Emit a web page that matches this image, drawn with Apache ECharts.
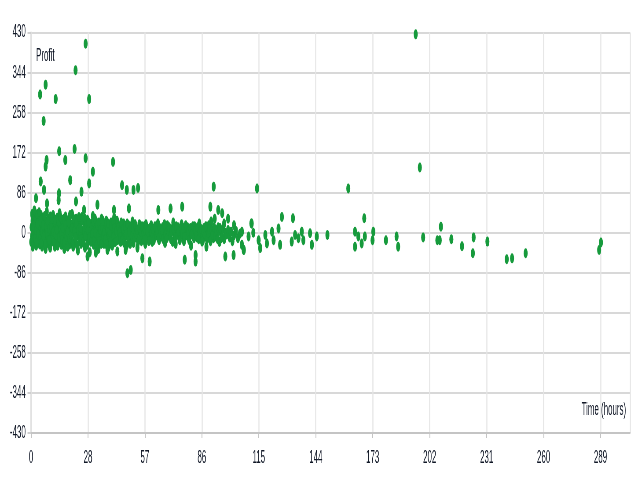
<!DOCTYPE html>
<html><head><meta charset="utf-8">
<script src="https://cdn.jsdelivr.net/npm/echarts@6/dist/echarts.min.js"></script>
<style>
html,body{margin:0;padding:0;width:640px;height:480px;overflow:hidden;background:#fff;}
#wrap{width:640px;height:480px;overflow:hidden;position:relative;}
#chart{width:1455px;height:480px;transform:scaleX(0.44);transform-origin:0 0;position:absolute;left:0;top:0;}
</style></head>
<body><div id="wrap"><div id="chart"></div></div>
<script>
// Y ticks: -430..430 step 86 ; X ticks: 0..289 step 28.9 (labels floored)
const yTicks = [-430,-344,-258,-172,-86,0,86,172,258,344,430];
const xTickLabels = [0,28,57,86,115,144,173,202,231,260,289];

// dense cluster near zero, hours 0-10
const clusterA = [[0.3,12],[0.5,-8],[0.8,25],[1,2],[1.2,-15],[1.4,35],[1.6,-22],[1.8,8],[2,18],[2.2,-5],[2.4,30],[2.6,-28],[2.8,12],[3,-12],[3.2,40],[3.4,0],[3.6,22],[3.8,-18],[4,5],[4.2,28],[4.4,-25],[4.6,15],[4.8,-8],[5,38],[5.2,-2],[5.4,20],[5.6,-30],[5.8,10],[6,-15],[6.2,32],[6.4,3],[6.6,-20],[6.8,18],[7,-5],[7.2,26],[7.4,-35],[7.6,8],[7.8,-12],[8,45],[8.2,14],[8.4,-22],[8.6,0],[8.8,30],[9,-10],[9.2,20],[9.4,-28],[9.6,6],[9.8,35]];
// hours 10-25
const clusterB = [[10,-3],[10.3,22],[10.6,-18],[10.9,10],[11.2,38],[11.5,-8],[11.8,25],[12.1,-30],[12.4,5],[12.7,15],[13,-14],[13.3,32],[13.6,0],[13.9,-22],[14.2,18],[14.5,42],[14.8,-6],[15.1,12],[15.4,-26],[15.7,28],[16,3],[16.3,-12],[16.6,20],[16.9,-35],[17.2,8],[17.5,35],[17.8,-4],[18.1,24],[18.4,-18],[18.7,12],[19,-8],[19.3,30],[19.6,-25],[19.9,2],[20.2,18],[20.5,-15],[20.8,40],[21.1,6],[21.4,-30],[21.7,22],[22,-2],[22.3,14],[22.6,-20],[22.9,30],[23.2,-8],[23.5,10],[23.8,-38],[24.1,25],[24.4,0],[24.7,-14]];
// hours 25-45
const clusterC = [[25,16],[25.4,-24],[25.8,34],[26.2,4],[26.6,-10],[27,22],[27.4,-32],[27.8,10],[28.2,-4],[28.6,28],[29,-18],[29.4,14],[29.8,-42],[30.2,2],[30.6,20],[31,-12],[31.4,36],[31.8,-26],[32.2,8],[32.6,-6],[33,24],[33.4,-20],[33.8,12],[34.2,-35],[34.6,0],[35,18],[35.4,-14],[35.8,30],[36.2,-8],[36.6,6],[37,-24],[37.4,16],[37.8,-2],[38.2,26],[38.6,-16],[39,4],[39.4,-30],[39.8,14],[40.2,-10],[40.6,22],[41,-4],[41.4,10],[41.8,-22],[42.2,32],[42.6,0],[43,-14],[43.4,18],[43.8,-40],[44.2,6],[44.6,-8]];
// hours 45-62
const clusterD = [[45,14],[45.5,-20],[46,4],[46.5,-6],[47,20],[47.5,-12],[48,8],[48.5,-28],[49,0],[49.5,16],[50,-16],[50.5,6],[51,-4],[51.5,24],[52,-22],[52.5,2],[53,12],[53.5,-10],[54,-32],[54.5,4],[55,18],[55.5,-6],[56,-18],[56.5,8],[57,-2],[57.5,14],[58,-24],[58.5,0],[59,10],[59.5,-12],[60,4],[60.5,-6],[61,16],[61.5,-20]];
// hours 62-107
const clusterE = [[62,2],[62.6,-10],[63.2,10],[63.8,-4],[64.4,20],[65,-16],[65.6,4],[66.2,-8],[66.8,12],[67.4,-2],[68,-22],[68.6,6],[69.2,16],[69.8,-6],[70.4,0],[71,-14],[71.6,8],[72.2,22],[72.8,-4],[73.4,-24],[74,4],[74.6,12],[75.2,-10],[75.8,2],[76.4,18],[77,-6],[77.6,-18],[78.2,6],[78.8,-2],[79.4,12],[80,-12],[80.6,4],[81.2,-28],[81.8,8],[82.4,-4],[83,14],[83.6,0],[84.2,-10],[84.8,6],[85.4,20],[86,-6],[86.6,2],[87.2,-16],[87.8,10],[88.4,-2],[89,-30],[89.6,4],[90.2,16],[90.8,-8],[91.4,24],[92,0],[92.6,-12],[93.2,30],[93.8,6],[94.4,-4],[95,12],[95.6,-20],[96.2,2],[96.8,-8],[97.4,8],[98,-14],[98.6,0],[99.2,-4],[100,6],[100.8,-10],[101.5,2],[102.2,-18],[103,-6],[104,4],[105,-12],[106,-2],[107,-26],[97,42],[98,20],[100,30],[103,16]];
// extra fill of the dense band, hours 0-30
const clusterF = [[0.1,-20],[0.6,40],[0.9,-30],[1.3,15],[1.7,48],[2.1,-12],[2.5,6],[2.9,-20],[3.3,20],[3.7,-4],[4.1,44],[4.5,-14],[4.9,26],[5.3,-22],[5.7,2],[6.1,16],[6.5,-8],[6.9,36],[7.3,-24],[7.7,12],[8.1,-2],[8.5,24],[8.9,-16],[9.3,8],[9.7,-32],[10.1,14],[10.5,30],[10.8,-10],[11.3,2],[11.7,-22],[12.2,28],[12.6,-4],[13.1,6],[13.5,-28],[14,24],[14.4,-10],[14.9,34],[15.3,-2],[15.8,-16],[16.2,10],[16.7,30],[17.1,-20],[17.6,16],[18,-8],[18.5,2],[19,22],[19.4,-14],[19.8,38],[20.3,-4],[20.7,10],[21.2,-22],[21.6,30],[22.1,4],[22.5,-10],[23,20],[23.4,-28],[23.9,6],[24.3,34],[24.8,-4],[25.2,10],[25.6,-14],[26,26],[26.5,-20],[26.9,4],[27.3,30],[27.7,-8],[28.1,16],[28.5,-26],[28.9,6],[29.3,22],[29.7,-10]];
// extra fill, hours 30-60
const clusterG = [[30.4,-20],[30.8,12],[31.2,-2],[31.6,24],[32,-16],[32.4,30],[32.8,0],[33.2,-28],[33.6,16],[34,-8],[34.4,22],[34.8,-18],[35.2,6],[35.6,-24],[36,12],[36.4,26],[36.8,-4],[37.2,2],[37.6,-14],[38,18],[38.4,-26],[38.8,8],[39.2,20],[39.6,-6],[40,2],[40.4,-20],[40.8,14],[41.2,-28],[41.6,24],[42,-8],[42.4,10],[42.8,-20],[43.2,4],[43.6,26],[44,-16],[44.4,12],[44.8,0],[45.3,-10],[45.8,22],[46.3,-16],[46.8,8],[47.3,-22],[47.8,14],[48.3,-4],[48.8,20],[49.3,-12],[49.8,2],[50.3,-24],[50.8,14],[51.3,-8],[51.8,8],[52.3,-14],[52.8,18],[53.3,-2],[53.8,6],[54.3,-20],[54.8,10],[55.3,-12],[55.8,2],[56.3,14],[56.8,-8],[57.3,-16],[57.8,6],[58.3,18],[58.8,-10],[59.3,2],[59.8,-18]];
// extra fill, hours 60-97
const clusterH = [[60.3,10],[60.8,-14],[61.3,0],[61.8,8],[62.3,-16],[62.9,14],[63.5,-6],[64.1,2],[64.7,-12],[65.3,10],[65.9,-2],[66.5,6],[67.1,-14],[67.7,18],[68.3,-6],[68.9,-12],[69.5,4],[70.1,12],[70.7,-8],[71.3,2],[71.9,-20],[72.5,6],[73.1,-10],[73.7,14],[74.3,-4],[74.9,2],[75.5,-16],[76.1,8],[76.7,-2],[77.3,10],[77.9,-10],[78.5,16],[79.1,-6],[79.7,2],[80.3,-16],[80.9,10],[81.5,-4],[82.1,14],[82.7,-12],[83.3,4],[83.9,-6],[84.5,12],[85.1,-14],[85.7,2],[86.3,8],[86.9,-10],[87.5,4],[88.1,-8],[88.7,14],[89.3,-14],[89.9,0],[90.5,8],[91.1,-18],[91.7,6],[92.3,-4],[92.9,12],[93.5,-8],[94.1,2],[94.7,-14],[95.3,4],[95.9,10],[96.5,-12]];
// scattered high profits
const highPoints = [[27.7,406],[22.6,349],[7.4,318],[4.6,297],[12.5,287],[29.5,287],[6.4,240],[14.3,175],[22.1,180],[7.9,156],[17.4,156],[27.7,160],[41.6,152],[7.4,142],[4.9,110],[31.4,131],[19.9,113],[29.5,106],[6.6,92],[14.2,85],[25.6,88],[2.5,74],[46.2,102],[48.6,92],[52,92],[54.3,96],[22.8,67],[8.1,63],[14,70],[26.9,49],[33.7,60],[42.1,49],[49.7,52],[64.6,49],[70.8,52],[76.7,56],[91,56],[95,49],[92.7,99],[114.7,95],[161,95],[197.3,140],[195.2,426]];
// scattered losses
const lowPoints = [[48,-37],[48.9,-87],[50.6,-80],[56.5,-55],[60.2,-62],[78,-58],[83.5,-48],[83.5,-62],[98.6,-51],[102.8,-48],[107.9,-37],[28.7,-51],[32.9,-43],[38.8,-37],[18.6,-30],[9.3,-16],[86.8,-19]];
// later trades
const latePoints = [[112,20],[127.3,34],[132.9,31],[169.1,31],[111.8,20],[107,2],[108,-37],[110.4,-8],[112.8,0],[115.5,-16],[116.3,-33],[118.9,-5],[119.7,-23],[122.3,2],[123.1,-16],[125.6,9],[126.4,-26],[132.3,-19],[134,-5],[135.7,-12],[137.4,2],[138.2,-16],[141.6,-1],[142.5,-26],[145,-8],[150.4,-5],[164.4,2],[164.4,-30],[166.1,-8],[167.8,-23],[169.4,-8],[173.7,2],[173.3,-16],[180.1,-16],[185.5,-8],[186.3,-30],[199,-10],[206.2,-16],[207.4,-16],[208,13],[213.3,-14],[218.7,-29],[224.6,-10],[224.2,-44],[231.6,-19],[241.4,-57],[244.1,-55],[251,-44],[288.3,-37],[289.2,-21]];

const allPoints = [].concat(clusterA, clusterB, clusterC, clusterD, clusterE, clusterF, clusterG, clusterH, highPoints, lowPoints, latePoints);

const chart = echarts.init(document.getElementById('chart'), null, {renderer:'canvas'});
const txt = {fontFamily:'Liberation Sans, Arial, sans-serif', fontSize:18, color:'#111827'};
chart.setOption({
  animation:false,
  grid:{left:70.5,right:23,top:32.5,bottom:47},
  xAxis:{
    type:'value', min:0, max:304, interval:28.9,
    axisLine:{show:true,onZero:false,lineStyle:{color:'#c4c4c4',width:2}},
    axisTick:{show:true,length:5,lineStyle:{color:'#c4c4c4',width:2}},
    axisLabel:Object.assign({margin:16,showMaxLabel:false,formatter:v=>String(Math.floor(v+1e-6))},txt),
    splitLine:{show:true,lineStyle:{color:'#e6e6e6',width:2.5}}
  },
  yAxis:{
    type:'value', min:yTicks[0], max:yTicks[yTicks.length-1], interval:86,
    axisLine:{show:true,onZero:false,lineStyle:{color:'#dedede',width:2.5}},
    axisTick:{show:true,length:8,lineStyle:{color:'#cfcfcf',width:2}},
    axisLabel:Object.assign({margin:12},txt),
    splitLine:{show:true,lineStyle:{color:'#d8d8d8',width:2}}
  },
  graphic:[
    {type:'text',left:82,top:47,style:{text:'Profit',fill:'#111827',font:'18px "Liberation Sans", Arial, sans-serif'}},
    {type:'text',right:32,top:401,style:{text:'Time (hours)',fill:'#111827',font:'18px "Liberation Sans", Arial, sans-serif'}}
  ],
  series:[{
    type:'scatter',
    data:allPoints,
    symbol:'circle',
    symbolSize:[9,10],
    itemStyle:{color:'#169a3c',opacity:1},
    silent:true
  }]
});
</script></body></html>
